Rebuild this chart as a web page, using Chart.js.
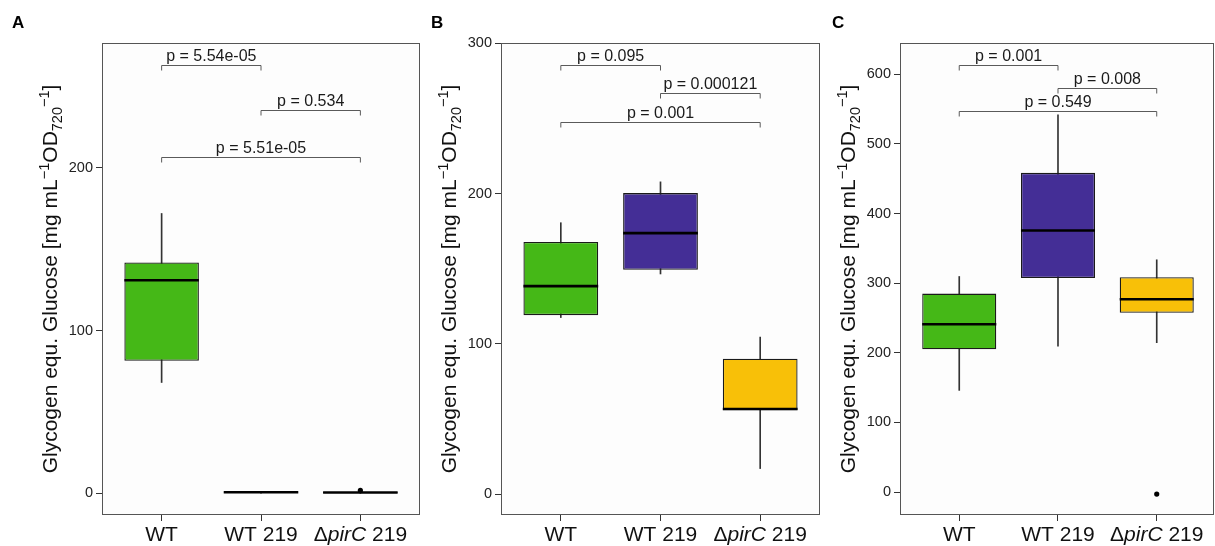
<!DOCTYPE html>
<html>
<head>
<meta charset="utf-8">
<script src="https://cdn.jsdelivr.net/npm/chart.js@4.4.1/dist/chart.umd.min.js"></script>
<style>
  html, body { margin: 0; padding: 0; background: #fff; }
  #wrap { position: relative; width: 1215px; height: 546px; overflow: hidden; }
  canvas { position: absolute; top: 0; }
</style>
</head>
<body>
<div id="wrap">
  <canvas id="cA" width="424" height="546" style="left:0px"></canvas>
  <canvas id="cB" width="400" height="546" style="left:424px"></canvas>
  <canvas id="cC" width="394" height="546" style="left:824px"></canvas>
</div>
<script>
// groups (x positions 1..3 on the axis)
const groupPos = [1, 2, 3];
const boxColors = ['#45b817', '#442e96', '#f8c008'];

// ---- panel A ----
const aLow    = [68.1, 0.2, 0.1];
const aQ1     = [81.4, 0.5, 0.3];
const aMedian = [130.8, 0.8, 0.6];
const aQ3     = [141.7, 1.1, 0.9];
const aHigh   = [171.8, 1.3, 1.1];
const aOutGroup = [3];
const aOutValue = [1.9];
const aTicks = [0, 100, 200];
const aRange = [-13.2, 276.4];
const aBrFrom = [1, 2, 1];
const aBrTo   = [2, 3, 3];
const aBrY    = [263, 235, 206.6];
const aBrP    = ['5.54e-05', '0.534', '5.51e-05'];

// ---- panel B ----
const bLow    = [117.5, 146.5, 17];
const bQ1     = [119.1, 149.3, 55.8];
const bMedian = [138.4, 173.7, 56.6];
const bQ3     = [167.8, 200.3, 90.1];
const bHigh   = [180.6, 207.8, 104.5];
const bOutGroup = [];
const bOutValue = [];
const bTicks = [0, 100, 200, 300];
const bRange = [-13.9, 300.2];
const bBrFrom = [1, 2, 1];
const bBrTo   = [2, 3, 3];
const bBrY    = [285.8, 266.7, 247.5];
const bBrP    = ['0.095', '0.000121', '0.001'];

// ---- panel C ----
const cLow    = [146, 209.5, 214.5];
const cQ1     = [205, 307.5, 257.5];
const cMedian = [241, 375.6, 277];
const cQ3     = [285, 458.5, 308.5];
const cHigh   = [309.6, 542, 333.6];
const cOutGroup = [3];
const cOutValue = [-3];
const cTicks = [0, 100, 200, 300, 400, 500, 600];
const cRange = [-33, 645];
const cBrFrom = [1, 2, 1];
const cBrTo   = [2, 3, 3];
const cBrY    = [613, 580, 547];
const cBrP    = ['0.001', '0.008', '0.549'];

const FONT = "'Liberation Sans', Arial, sans-serif";

// draws a run of [text, size, dy, italic] pieces, centred on 0
function drawRuns(ctx, runs, align) {
  let widths = runs.map(r => {
    ctx.font = (r[3] ? 'italic ' : '') + r[1] + 'px ' + FONT;
    return ctx.measureText(r[0]).width;
  });
  let total = widths.reduce((a, b) => a + b, 0);
  let x = align === 'center' ? -total / 2 : 0;
  runs.forEach((r, i) => {
    ctx.font = (r[3] ? 'italic ' : '') + r[1] + 'px ' + FONT;
    ctx.fillText(r[0], x, r[2]);
    x += widths[i];
  });
}

const deco = {
  id: 'deco',
  beforeDatasetsDraw(chart) {
    const a = chart.chartArea, ctx = chart.ctx;
    ctx.save();
    ctx.fillStyle = '#fdfdfd';
    ctx.fillRect(a.left, a.top, a.right - a.left, a.bottom - a.top);
    ctx.restore();
  },
  afterDatasetsDraw(chart, args, o) {
    const a = chart.chartArea, ctx = chart.ctx;
    const xs = chart.scales.x, ys = chart.scales.y;
    const boxMeta = chart.getDatasetMeta(1);
    ctx.save();
    // medians
    ctx.strokeStyle = '#000';
    ctx.lineWidth = 2.6;
    o.median.forEach((m, i) => {
      const bar = boxMeta.data[i];
      const y = ys.getPixelForValue(m);
      ctx.beginPath();
      ctx.moveTo(bar.x - bar.width / 2, y);
      ctx.lineTo(bar.x + bar.width / 2, y);
      ctx.stroke();
    });
    // panel border
    ctx.strokeStyle = '#555';
    ctx.lineWidth = 1;
    ctx.strokeRect(Math.round(a.left) + 0.5, Math.round(a.top) + 0.5,
      Math.round(a.right - a.left) - 1, Math.round(a.bottom - a.top) - 1);
    // significance brackets
    ctx.strokeStyle = '#5a5a5a';
    ctx.fillStyle = '#1a1a1a';
    ctx.textAlign = 'center';
    ctx.textBaseline = 'alphabetic';
    ctx.font = '16px ' + FONT;
    o.brFrom.forEach((f, i) => {
      const x1 = xs.getPixelForValue(f), x2 = xs.getPixelForValue(o.brTo[i]);
      const y = Math.round(ys.getPixelForValue(o.brY[i])) + 0.5;
      ctx.beginPath();
      ctx.moveTo(x1, y + 5);
      ctx.lineTo(x1, y);
      ctx.lineTo(x2, y);
      ctx.lineTo(x2, y + 5);
      ctx.stroke();
      ctx.fillText('p = ' + o.brP[i], (x1 + x2) / 2, y - 5);
    });
    ctx.restore();
  },
  afterDraw(chart, args, o) {
    const a = chart.chartArea, ctx = chart.ctx;
    const xs = chart.scales.x;
    ctx.save();
    ctx.fillStyle = '#111';
    ctx.textBaseline = 'alphabetic';
    // x labels
    const labels = [
      [['WT', 21, 0, false]],
      [['WT 219', 21, 0, false]],
      [['\u0394', 21, 0, false], ['pirC', 21, 0, true], [' 219', 21, 0, false]]
    ];
    labels.forEach((runs, i) => {
      ctx.save();
      ctx.translate(xs.getPixelForValue(groupPos[i]), 541);
      ctx.textAlign = 'left';
      drawRuns(ctx, runs, 'center');
      ctx.restore();
    });
    // y title
    ctx.save();
    ctx.translate(o.titleX, (a.top + a.bottom) / 2);
    ctx.rotate(-Math.PI / 2);
    ctx.textAlign = 'left';
    drawRuns(ctx, [
      ['Glycogen equ. Glucose [mg mL', 21, 0, false],
      ['\u22121', 14.5, -8, false],
      ['OD', 21, 0, false],
      ['720', 14.5, 5, false],
      ['\u22121', 14.5, -8, false],
      [']', 21, 0, false]
    ], 'center');
    ctx.restore();
    // panel letter
    ctx.font = 'bold 17px ' + FONT;
    ctx.fillStyle = '#000';
    ctx.textAlign = 'left';
    ctx.fillText(o.letter, o.letterX, 28);
    ctx.restore();
  }
};

function makePanel(p) {
  const ctx = document.getElementById(p.id).getContext('2d');
  return new Chart(ctx, {
    type: 'bar',
    data: {
      datasets: [
        {
          label: 'whisker',
          data: groupPos.map((x, i) => ({ x: x, y: [p.low[i], p.high[i]] })),
          backgroundColor: '#333',
          barThickness: 1,
          grouped: false,
          order: 3
        },
        {
          label: 'box',
          data: groupPos.map((x, i) => ({ x: x, y: [p.q1[i], p.q3[i]] })),
          backgroundColor: boxColors,
          borderColor: '#1a1a1a',
          borderWidth: 1.3,
          borderSkipped: false,
          barPercentage: 0.75,
          categoryPercentage: 1,
          grouped: false,
          order: 2
        },
        {
          type: 'line',
          label: 'outlier',
          data: p.outGroup.map((g, i) => ({ x: g, y: p.outValue[i] })),
          showLine: false,
          pointRadius: 2.6,
          pointBackgroundColor: '#000',
          pointBorderWidth: 0,
          order: 1
        }
      ]
    },
    options: {
      responsive: false,
      animation: false,
      devicePixelRatio: 1,
      layout: { padding: { left: 0, right: p.padR, top: 43, bottom: 0 } },
      plugins: {
        legend: { display: false },
        tooltip: { enabled: false },
        deco: {
          median: p.median, brFrom: p.brFrom, brTo: p.brTo, brY: p.brY, brP: p.brP,
          titleX: p.titleX, letter: p.letter, letterX: p.letterX
        }
      },
      scales: {
        x: {
          type: 'linear',
          min: 0.4,
          max: p.xMax,
          offset: false,
          afterBuildTicks: s => { s.ticks = groupPos.map(v => ({ value: v })); },
          afterFit: s => { s.height = 31; },
          ticks: { callback: () => '', autoSkip: false },
          grid: { offset: false, drawOnChartArea: false, drawTicks: true, tickLength: 6, tickColor: '#333', tickWidth: 1 },
          border: { display: false }
        },
        y: {
          min: p.range[0],
          max: p.range[1],
          afterBuildTicks: s => { s.ticks = p.ticks.map(v => ({ value: v })); },
          afterFit: s => { s.width = p.yw; },
          ticks: { color: '#222', font: { family: FONT, size: 14.5 }, padding: 3 },
          grid: { drawOnChartArea: false, drawTicks: true, tickLength: 6, tickColor: '#333', tickWidth: 1 },
          border: { display: false }
        }
      }
    },
    plugins: [deco]
  });
}

makePanel({
  id: 'cA', low: aLow, q1: aQ1, median: aMedian, q3: aQ3, high: aHigh,
  outGroup: aOutGroup, outValue: aOutValue, ticks: aTicks, range: aRange,
  brFrom: aBrFrom, brTo: aBrTo, brY: aBrY, brP: aBrP,
  yw: 102, padR: 1, xMax: 3.6, titleX: 57, letter: 'A', letterX: 12
});
makePanel({
  id: 'cB', low: bLow, q1: bQ1, median: bMedian, q3: bQ3, high: bHigh,
  outGroup: bOutGroup, outValue: bOutValue, ticks: bTicks, range: bRange,
  brFrom: bBrFrom, brTo: bBrTo, brY: bBrY, brP: bBrP,
  yw: 77, padR: 4, xMax: 3.6, titleX: 32, letter: 'B', letterX: 7
});
makePanel({
  id: 'cC', low: cLow, q1: cQ1, median: cMedian, q3: cQ3, high: cHigh,
  outGroup: cOutGroup, outValue: cOutValue, ticks: cTicks, range: cRange,
  brFrom: cBrFrom, brTo: cBrTo, brY: cBrY, brP: cBrP,
  yw: 76, padR: 0, xMax: 3.58, titleX: 31, letter: 'C', letterX: 8
});
</script>
</body>
</html>
